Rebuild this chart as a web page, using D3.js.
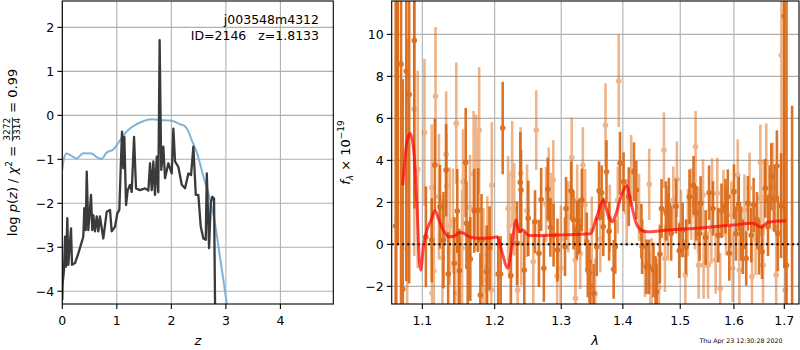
<!DOCTYPE html>
<html>
<head>
<meta charset="utf-8">
<script src="https://cdn.jsdelivr.net/npm/d3@7"></script>
<style>
  body { margin: 0; background: #fff; }
  svg text { font-family: "DejaVu Sans", sans-serif; fill: #000; }
</style>
</head>
<body>
<svg id="chart" width="800" height="350"></svg>
<script>
// ---- p(z) panel data ----
const zGrid = [0.0, 0.007, 0.031, 0.05, 0.068, 0.092, 0.11, 0.16, 0.178, 0.233, 0.294, 0.385, 0.404, 0.43, 0.448, 0.477,
  0.527, 0.55, 0.569, 0.60, 0.631, 0.66, 0.69, 0.752, 0.815, 0.875, 0.906, 0.967, 1.009, 1.046, 1.072, 1.095,
  1.119, 1.138, 1.169, 1.20, 1.242, 1.273, 1.316, 1.352, 1.426, 1.517, 1.578, 1.609, 1.64, 1.67, 1.70, 1.732,
  1.76, 1.785, 1.815, 1.853, 1.884, 1.945, 2.007, 2.037, 2.068, 2.128, 2.191, 2.251, 2.312, 2.361, 2.404, 2.448,
  2.495, 2.539, 2.587, 2.631, 2.65, 2.692, 2.723, 2.752, 2.783, 2.80, 2.82];
const logPz = [-4.2, -3.82, -3.52, -2.76, -3.44, -2.34, -3.40, -2.57, -3.40, -3.36, -3.14, -2.76, -2.11, -2.61, -1.28, -2.61,
  -1.81, -2.61, -2.27, -2.64, -2.30, -2.64, -2.30, -2.80, -2.19, -2.15, -2.64, -2.53, -2.23, -2.15, -1.17, -0.37,
  -1.20, -0.49, -2.04, -1.70, -1.58, -1.74, -0.49, -1.66, -1.70, -1.66, -1.71, -1.09, -1.70, -1.05, -1.81, -0.94,
  -1.75, 1.71, -1.24, -0.71, -1.43, -1.09, -1.32, -0.30, -1.05, -1.17, -1.58, -1.66, -1.32, -1.36, -0.71, -1.81,
  -1.81, -2.53, -2.80, -2.83, -1.32, -3.02, -2.0, -1.85, -1.89, -4.12, -5.5];

const zPrior = [0.0, 0.03, 0.08, 0.14, 0.26, 0.385, 0.54, 0.63, 0.72, 0.81, 0.94, 1.03, 1.15, 1.27, 1.46, 1.64,
  1.82, 1.97, 2.07, 2.15, 2.25, 2.31, 2.37, 2.47, 2.59, 2.71, 2.80, 2.89, 2.99, 3.05];
const logPrior = [-1.24, -0.98, -0.87, -0.90, -0.98, -0.86, -0.87, -0.95, -0.99, -0.85, -0.77, -0.62, -0.41, -0.27, -0.145, -0.09,
  -0.11, -0.12, -0.15, -0.20, -0.25, -0.36, -0.55, -0.86, -1.40, -1.92, -2.45, -3.21, -4.05, -4.6];

const zTicks = [0, 1, 2, 3, 4];
const pzTicks = [-4, -3, -2, -1, 0, 1, 2];

// ---- spectrum panel data (wavelength in micron, flux in 1e-19) ----
// darker beam
const waveA = [1.0653, 1.068, 1.0722, 1.0744, 1.0790, 1.0827, 1.0894,
  1.1047, 1.1125, 1.1167, 1.1236, 1.1283, 1.1319, 1.1347, 1.1431, 1.1472, 1.1500, 1.1589, 1.1600, 1.1617, 1.1653,
  1.1708, 1.1764, 1.1795, 1.1811, 1.1885, 1.1926, 1.2051, 1.2086, 1.2116, 1.2236, 1.2326, 1.2375, 1.2386, 1.2435, 1.2495,
  1.2596, 1.2656, 1.2690, 1.2731, 1.2791, 1.2831, 1.2881, 1.2941, 1.3059, 1.3075, 1.3156, 1.3193, 1.3246, 1.3284, 1.3326,
  1.3406, 1.3422, 1.3449, 1.3465, 1.3514, 1.3567, 1.3605, 1.3647, 1.3674, 1.3727, 1.3770, 1.3846, 1.3872, 1.3952, 1.4012,
  1.4100, 1.4188, 1.4228, 1.4316, 1.4328, 1.4403, 1.4446, 1.4526, 1.4561, 1.4578, 1.4638, 1.4666, 1.4744,
  1.4752, 1.4796, 1.4837, 1.4924, 1.4982, 1.5045, 1.5106, 1.5168, 1.5242, 1.5292, 1.5354, 1.5372, 1.5466, 1.5529, 1.5603,
  1.5702, 1.5763, 1.5838, 1.5883, 1.5912, 1.6001, 1.6040, 1.6093, 1.6139, 1.6173, 1.6239, 1.6272, 1.6338, 1.6384, 1.6451,
  1.6491, 1.6551, 1.6616, 1.6670, 1.6702, 1.6736, 1.6801, 1.6849, 1.6868, 1.6934, 1.7000, 1.7045, 1.7160];
const fluxA = [0.87, 14.0, 8.59, -2.14, 8.25, 7.14, 9.71,
  0.36, 0.20, 3.78, 1.79, 0.20, 3.54, -1.41, -0.90, 1.59, -1.26, 3.90, 1.00, -1.07, -0.70,
  1.60, 1.63, -2.41, 0.20, -1.30, -0.19, -1.41, -1.41, 5.54, -1.48, 0.05, 2.95, 2.59, -1.22, 1.24,
  1.08, -0.43, 2.14, -1.14, 2.63, 0.81, 0.44, -0.27, -0.11, 1.71, 2.55, 1.16, 0.68, 0.84, 2.11,
  0.12, -1.22, -1.38, -2.02, -2.33, -0.11, 2.55, 2.46, 0.84, 3.46, 0.62, -1.19, -0.11, 3.86, 2.98,
  2.27, 3.46, 2.59, 0.63, -0.11, -1.07, -1.07, -1.22, -1.86, -2.26, -0.46, 1.71, 1.60,
  1.48, 1.87, 0.52, 1.82, -0.30, 0.68, -0.11, 2.27, 2.81, 1.48, 0.52, 1.95, 0.33, 2.46, 1.71,
  0.44, 1.60, 1.82, 2.27, -0.43, 2.51, 0.52, 1.92, 0.52, -0.11, -0.67, 1.95, 0.44, 1.87, 1.19,
  -0.14, -0.35, 2.67, 0.84, 2.27, 3.22, 2.19, 3.73, 0.52, 1.84, 10.87, -1.0, -5.0];
const errA = [12, 14, 12, 10, 10, 9, 8,
  2.4, 2.0, 2.2, 2.0, 2.3, 2.2, 2.0, 2.2, 2.0, 2.0, 2.6, 2.0, 2.0, 2.0,
  2.0, 2.0, 2.0, 2.2, 2.2, 2.0, 1.8, 1.8, 2.2, 2.0, 2.0, 2.4, 1.9, 1.8, 1.8,
  1.5, 1.6, 1.5, 1.6, 1.5, 1.4, 1.5, 1.5, 1.4, 1.5, 1.4, 1.4, 1.4, 1.3, 1.5,
  1.4, 1.3, 1.4, 1.3, 1.4, 1.4, 1.4, 1.3, 1.4, 1.5, 1.4, 1.4, 1.3, 1.5, 1.4,
  1.4, 1.4, 1.4, 1.3, 1.3, 1.3, 1.3, 1.3, 1.3, 1.3, 1.4, 1.4, 1.4,
  1.3, 1.3, 1.3, 1.3, 1.3, 1.3, 1.3, 1.3, 1.4, 1.3, 1.3, 1.3, 1.3, 1.3, 1.3,
  1.3, 1.3, 1.3, 1.3, 1.3, 1.3, 1.3, 1.3, 1.3, 1.3, 1.3, 1.3, 1.3, 1.3, 1.3,
  1.3, 1.3, 1.4, 1.4, 1.5, 1.6, 1.6, 1.7, 1.8, 2.5, 12, 14, 11.6];

// lighter beam
const waveB = [1.0666, 1.0801, 1.0894, 1.0939,
  1.1028, 1.1125, 1.1130, 1.1153, 1.1176, 1.1222, 1.1269, 1.1319, 1.1325, 1.1367, 1.1413, 1.1458, 1.1478, 1.1506,
  1.1538, 1.1551, 1.1649, 1.1700, 1.1736, 1.1742, 1.1778, 1.1833, 1.1839, 1.1890, 1.1894, 1.1950, 1.1958,
  1.2195, 1.2210, 1.2255, 1.2285, 1.2336, 1.2381, 1.2390, 1.2476,
  1.2570, 1.2615, 1.2765, 1.2806, 1.2846, 1.2876, 1.2936, 1.2990, 1.2995, 1.3112, 1.3165, 1.3220, 1.3225, 1.3252,
  1.3300, 1.3342, 1.3380, 1.3486, 1.3541, 1.3626, 1.3711, 1.3782, 1.3915, 1.3931, 1.4065, 1.4140, 1.4275, 1.4375,
  1.4451, 1.4473, 1.4492, 1.4590, 1.4621, 1.4709, 1.4726,
  1.4777, 1.4875, 1.4940, 1.5013, 1.5093, 1.5138, 1.5199, 1.5268, 1.5279, 1.5324, 1.5335, 1.5417, 1.5428, 1.5510,
  1.5572, 1.5585, 1.5652, 1.5683, 1.5739, 1.5801, 1.5851, 1.5950, 1.5976, 1.6074, 1.6105, 1.6205, 1.6304, 1.6352,
  1.6423, 1.6517, 1.6523, 1.6571, 1.6583, 1.6636, 1.6769, 1.6835, 1.6940, 1.6968, 1.7020];
const fluxB = [12.0, -0.22, 6.44, 3.57,
  5.33, 2.71, -2.33, -1.26, 7.05, 2.27, -0.64, 4.29, 2.78, 0.87, 1.11, 5.76, -2.33, -2.18,
  -0.19, 2.98, 1.76, 3.35, 3.38, 2.46, 5.44, -2.18, -1.07, -1.70, -0.51, -2.18, 2.82,
  1.71, 0.87, 3.38, 1.67, -2.18, 3.38, 0.05, 1.60,
  -0.83, 5.44, 1.90, 2.82, 1.71, 3.06, -1.51, -1.14, 0.24, 1.31, 4.14, -0.75, -2.57, 2.11,
  -0.43, 3.78, 1.89, 0.68, -2.37, 0.27, 5.67, 1.24, 2.11, 7.78, 1.52, 3.51, 1.76, -0.90,
  2.86, -1.86, -1.30, -2.18, -2.05, 4.49, -0.67,
  0.84, 2.11, 3.10, 1.00, -1.46, 1.03, 1.92, 1.36, 4.65, 1.16, -0.99, 2.35, -0.99, -0.99,
  0.68, 2.40, -0.75, 2.43, -2.10, 1.95, 1.08, 1.40, -1.14, 3.30, -1.22, 1.63, 2.67, -1.54,
  0.24, 3.90, 2.19, -0.99, 2.24, 3.86, 2.74, -1.46, 9.01, 7.54, -2.18];
const errB = [15, 10, 7, 4.7,
  3.5, 3.0, 3.0, 2.8, 3.3, 3.0, 2.8, 3.0, 2.5, 2.8, 2.5, 2.9, 2.8, 2.8,
  2.8, 2.5, 2.5, 3.0, 2.8, 2.8, 3.0, 2.8, 2.8, 2.6, 2.8, 2.8, 3.0,
  2.5, 2.5, 2.5, 2.2, 2.2, 2.2, 2.0, 2.2,
  2.0, 1.9, 1.8, 1.8, 1.7, 1.9, 1.8, 1.7, 1.6, 1.7, 1.9, 1.7, 1.7, 1.7,
  1.7, 1.8, 1.7, 1.6, 1.7, 1.6, 2.0, 1.6, 1.6, 2.2, 1.6, 1.7, 1.6, 1.6,
  1.7, 1.5, 1.6, 1.5, 1.6, 1.8, 1.6,
  1.6, 1.6, 1.8, 1.6, 1.7, 1.6, 1.7, 1.6, 1.7, 1.6, 1.6, 1.7, 1.6, 1.6,
  1.6, 1.7, 1.6, 1.7, 1.7, 1.6, 1.6, 1.6, 1.6, 1.7, 1.7, 1.7, 1.7, 1.7,
  1.7, 1.8, 1.8, 1.8, 1.8, 1.9, 2.1, 2.4, 8, 6, 4];

// best-fit model
const modelWave = [1.0744, 1.0795, 1.0838, 1.0882, 1.0926, 1.0960, 1.0979, 1.1014, 1.1061, 1.1117, 1.1167, 1.1222,
  1.1292, 1.1361, 1.1431, 1.1500, 1.1547, 1.1617, 1.1708, 1.1847, 1.1986, 1.2036, 1.2111, 1.2186, 1.2236, 1.2311,
  1.2360, 1.2411, 1.2506, 1.3000, 1.3461, 1.3567, 1.3674, 1.3754, 1.3823, 1.3888, 1.3968, 1.4065, 1.4140, 1.4228,
  1.4316, 1.4433, 1.4784, 1.5354, 1.5976, 1.6372, 1.6537, 1.6670, 1.7035];
const modelFlux = [2.82, 4.81, 5.29, 4.65, 2.11, -0.75, -1.22, -0.11, 0.68, 1.16, 1.60, 1.16,
  0.60, 0.36, 0.40, 0.57, 0.55, 0.40, 0.30, 0.29, 0.33, 0.36, -0.43, -1.14, -0.43, 1.16,
  0.60, 0.68, 0.42, 0.45, 0.50, 1.31, 2.11, 1.40, 1.08, 1.48, 2.27, 2.79, 1.95, 1.00,
  0.68, 0.60, 0.68, 0.78, 0.92, 1.00, 0.81, 1.05, 1.12];

const waveTicks = [1.1, 1.2, 1.3, 1.4, 1.5, 1.6, 1.7];
const fluxTicks = [-2, 0, 2, 4, 6, 8, 10];

const svg = d3.select('#chart');
const yTop = 1, yBot = 304;

// scales
const zx = d3.scaleLinear().domain([0, 4.97]).range([62.3, 333.3]);
const zy = d3.scaleLinear().domain([-4.29, 2.6]).range([yBot, yTop]);
const wx = d3.scaleLog().domain([1.0602, 1.7303]).range([391.7, 799]);
const fy = d3.scaleLinear().domain([-2.84, 11.59]).range([yBot, yTop]);

const defs = svg.append('defs');
function clip(id, x0, x1) {
  defs.append('clipPath').attr('id', id)
    .append('rect').attr('x', x0).attr('y', yTop).attr('width', x1 - x0).attr('height', yBot - yTop);
}
clip('clipL', zx.range()[0], zx.range()[1]);
clip('clipR', wx.range()[0], wx.range()[1]);

// grid lines for one panel
function grid(xs, ys, xt, yt) {
  const g = svg.append('g');
  const [x0, x1] = xs.range();
  g.selectAll('.gx').data(xt).enter().append('line')
    .attr('x1', d => xs(d)).attr('x2', d => xs(d)).attr('y1', yTop).attr('y2', yBot)
    .attr('stroke', '#b0b0b0').attr('stroke-width', 1.1);
  g.selectAll('.gy').data(yt).enter().append('line')
    .attr('x1', x0).attr('x2', x1).attr('y1', d => ys(d)).attr('y2', d => ys(d))
    .attr('stroke', '#b0b0b0').attr('stroke-width', 1.1);
}
// frame, ticks and tick labels
function axes(xs, ys, xt, yt, xfmt, yfmt) {
  const g = svg.append('g');
  const [x0, x1] = xs.range();
  g.append('rect').attr('x', x0).attr('y', yTop).attr('width', x1 - x0).attr('height', yBot - yTop)
    .attr('fill', 'none').attr('stroke', '#000').attr('stroke-width', 1.1);
  xt.forEach(d => {
    g.append('line').attr('x1', xs(d)).attr('x2', xs(d)).attr('y1', yBot).attr('y2', yBot + 4.9)
      .attr('stroke', '#000').attr('stroke-width', 1.1);
    g.append('text').attr('x', xs(d)).attr('y', yBot + 21).attr('text-anchor', 'middle')
      .style('font-size', '12.5px').text(xfmt(d));
  });
  yt.forEach(d => {
    g.append('line').attr('x1', x0 - 4.9).attr('x2', x0).attr('y1', ys(d)).attr('y2', ys(d))
      .attr('stroke', '#000').attr('stroke-width', 1.1);
    g.append('text').attr('x', x0 - 8).attr('y', ys(d) + 4.5).attr('text-anchor', 'end')
      .style('font-size', '12.5px').text(yfmt(d));
  });
}
const minus = s => s.replace('-', '\u2212');

grid(zx, zy, zTicks, pzTicks);
grid(wx, fy, waveTicks, fluxTicks);

// ---- left panel lines ----
const left = svg.append('g').attr('clip-path', 'url(#clipL)');
left.append('path')
  .datum(zPrior.map((z, i) => [z, logPrior[i]]))
  .attr('fill', 'none').attr('stroke', '#7fb2d8').attr('stroke-width', 2)
  .attr('d', d3.line().x(d => zx(d[0])).y(d => zy(d[1])).curve(d3.curveMonotoneX));
left.append('path')
  .datum(zGrid.map((z, i) => [z, logPz[i]]))
  .attr('fill', 'none').attr('stroke', '#3a3a3a').attr('stroke-width', 2.3).attr('stroke-linejoin', 'round')
  .attr('d', d3.line().x(d => zx(d[0])).y(d => zy(d[1])));

// ---- right panel ----
const right = svg.append('g').attr('clip-path', 'url(#clipR)');
function errorbars(w, f, e, color, alpha) {
  const data = w.map((d, i) => ({ w: d, f: f[i], e: e[i] }));
  const g = right.append('g').attr('opacity', alpha);
  g.selectAll('line').data(data).enter().append('line')
    .attr('x1', d => wx(d.w)).attr('x2', d => wx(d.w))
    .attr('y1', d => fy(d.f - d.e)).attr('y2', d => fy(d.f + d.e))
    .attr('stroke', color).attr('stroke-width', 2.6);
  g.selectAll('circle').data(data).enter().append('circle')
    .attr('cx', d => wx(d.w)).attr('cy', d => fy(d.f)).attr('r', 2.8)
    .attr('fill', color);
}
errorbars(waveB, fluxB, errB, '#de6a17', 0.5);
errorbars(waveA, fluxA, errA, '#d9620c', 0.88);

right.append('line')
  .attr('x1', wx.range()[0]).attr('x2', wx.range()[1]).attr('y1', fy(0)).attr('y2', fy(0))
  .attr('stroke', '#000').attr('stroke-width', 2).attr('stroke-dasharray', '2,3.2');

right.append('path')
  .datum(modelWave.map((w, i) => [w, modelFlux[i]]))
  .attr('fill', 'none').attr('stroke', 'red').attr('stroke-width', 3).attr('opacity', 0.7)
  .attr('d', d3.line().x(d => wx(d[0])).y(d => fy(d[1])).curve(d3.curveMonotoneX));

axes(zx, zy, zTicks, pzTicks, d => d3.format('d')(d), d => minus(d3.format('d')(d)));
axes(wx, fy, waveTicks, fluxTicks, d => d3.format('.1f')(d), d => minus(d3.format('d')(d)));

// ---- annotations ----
svg.append('text').attr('x', 319).attr('y', 23.5).attr('text-anchor', 'end')
  .style('font-size', '12.5px').text('j003548m4312');
svg.append('text').attr('x', 319).attr('y', 40).attr('text-anchor', 'end')
  .style('font-size', '12.5px').style('white-space', 'pre').text('ID=2146   z=1.8133');

// x labels
svg.append('text').attr('x', 197.8).attr('y', 345).attr('text-anchor', 'middle')
  .style('font-size', '13px').style('font-style', 'italic').text('z');
svg.append('text').attr('x', 595).attr('y', 345).attr('text-anchor', 'middle')
  .style('font-size', '13px').style('font-style', 'italic').text('λ');

// left y label: log p(z) / chi^2 = 3272/3314 = 0.99
const yl = svg.append('g').attr('transform', 'translate(17,152.5) rotate(-90)');
const t1 = yl.append('text').style('font-size', '13px').style('white-space', 'pre').attr('x', 0).attr('y', 0);
t1.append('tspan').text('log ');
t1.append('tspan').style('font-style', 'italic').text('p');
t1.append('tspan').text('(');
t1.append('tspan').style('font-style', 'italic').text('z');
t1.append('tspan').text(') / ');
t1.append('tspan').style('font-style', 'italic').text('χ');
t1.append('tspan').style('font-size', '9px').attr('dy', -5).text('2');
t1.append('tspan').attr('dy', 5).text(' = ');
const w1 = t1.node().getComputedTextLength();
const num = yl.append('text').style('font-size', '9px').attr('text-anchor', 'middle').attr('y', -7).text('3272');
const den = yl.append('text').style('font-size', '9px').attr('text-anchor', 'middle').attr('y', 3).text('3314');
const wf = Math.max(num.node().getComputedTextLength(), den.node().getComputedTextLength()) + 2;
const t3 = yl.append('text').style('font-size', '13px').style('white-space', 'pre').attr('y', 0).text(' = 0.99');
const w3 = t3.node().getComputedTextLength();
const total = w1 + wf + w3;
t1.attr('x', -total / 2);
num.attr('x', -total / 2 + w1 + wf / 2);
den.attr('x', -total / 2 + w1 + wf / 2);
yl.append('line').attr('x1', -total / 2 + w1 + 0.5).attr('x2', -total / 2 + w1 + wf - 0.5)
  .attr('y1', -4.6).attr('y2', -4.6).attr('stroke', '#000').attr('stroke-width', 0.8);
t3.attr('x', -total / 2 + w1 + wf);

// right y label: f_lambda x 10^-19
const yr = svg.append('g').attr('transform', 'translate(350,152.5) rotate(-90)');
const t4 = yr.append('text').style('font-size', '13px').style('white-space', 'pre').attr('text-anchor', 'middle');
t4.append('tspan').style('font-style', 'italic').text('f');
t4.append('tspan').style('font-size', '9px').style('font-style', 'italic').attr('dy', 3).text('λ');
t4.append('tspan').attr('dy', -3).text(' × 10');
t4.append('tspan').style('font-size', '9px').attr('dy', -6).text('−19');

// timestamp
svg.append('text').attr('x', 741).attr('y', 343).attr('text-anchor', 'middle')
  .style('font-size', '6.3px').text('Thu Apr 23 12:30:28 2020');
</script>
</body>
</html>
